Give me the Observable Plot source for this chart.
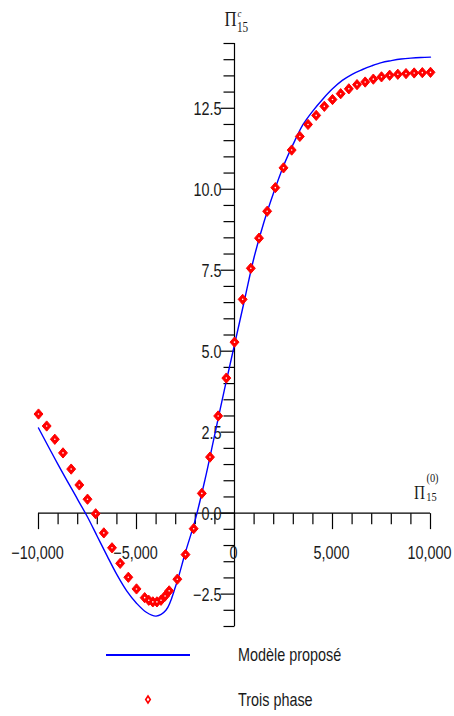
<!DOCTYPE html>
<html>
<head>
<meta charset="utf-8">
<script src="https://cdn.jsdelivr.net/npm/d3@7"></script>
<script src="https://cdn.jsdelivr.net/npm/@observablehq/plot@0.6"></script>
<style>
  body { margin: 0; background: #fff; }
  #chart, #legend { width: 454px; }
  #legend svg { display: block; }
</style>
</head>
<body>
<div id="chart"></div>
<div id="legend"></div>
<script>
// Proposed model (continuous curve)
const modelX = [-10000, -9000, -8000, -7500, -7000, -6500, -6000, -5500, -5000, -4500, -4000, -3500,
  -3000, -2500, -2000, -1500, -1000, -500, 0, 500, 1000, 1500, 2000, 2500, 3000, 3500, 4000, 4500,
  5000, 5500, 6000, 6500, 7000, 7500, 8000, 8500, 9000, 9500, 10000];
const modelY = [2.63, 1.5, 0.42, -0.12, -0.72, -1.32, -1.9, -2.4, -2.78, -3.06, -3.18, -3.0,
  -2.25, -1.2, -0.2, 1.05, 2.45, 3.85, 5.2, 6.55, 7.9, 8.98, 9.9, 10.72, 11.4, 12.0, 12.42, 12.78,
  13.1, 13.36, 13.55, 13.69, 13.81, 13.91, 13.97, 14.02, 14.05, 14.07, 14.08];

// Three-phase results (markers)
const phaseX = [-10000, -9583, -9167, -8750, -8333, -7917, -7500, -7083, -6667, -6250, -5833, -5417, -5000,
  -4583, -4375, -4167, -3958, -3750, -3542, -3333,
  -2917, -2500, -2083, -1667, -1250, -833, -417, 0,
  417, 833, 1250, 1667, 2083, 2500, 2917, 3333, 3750, 4167, 4583, 5000,
  5417, 5833, 6250, 6667, 7083, 7500, 7917, 8333, 8750, 9167, 9583, 10000];
const phaseY = [3.06, 2.69, 2.28, 1.86, 1.36, 0.87, 0.43, -0.02, -0.61, -1.07, -1.55, -1.98, -2.34,
  -2.61, -2.69, -2.74, -2.74, -2.69, -2.56, -2.40,
  -2.04, -1.28, -0.48, 0.61, 1.73, 3.0, 4.17, 5.28,
  6.6, 7.56, 8.49, 9.32, 10.05, 10.66, 11.21, 11.63, 12.0, 12.28, 12.56, 12.77,
  12.95, 13.1, 13.23, 13.31, 13.40, 13.47, 13.52, 13.55, 13.57, 13.59, 13.60, 13.61];

const seriesNames = ["Modèle proposé", "Trois phase"];
const xTickValues = [-10000, -5000, 0, 5000, 10000];
const xTickLabels = ["−10,000", "−5,000", "0", "5,000", "10,000"];
const yTickValues = [-2.5, 0, 2.5, 5, 7.5, 10, 12.5];
const yTickLabels = ["−2.5", "0.0", "2.5", "5.0", "7.5", "10.0", "12.5"];

const blue = "#0000ff";
const red = "#ff0000";
const ink = "#1a1a1a";
const sans = "'Liberation Sans', Arial, sans-serif";
const serif = "'Liberation Serif', 'Times New Roman', serif";

const model = modelX.map((x, i) => ({x, y: modelY[i]}));
const phase = phaseX.map((x, i) => ({x, y: phaseY[i]}));

// small tick glyphs drawn from the axis point
const tick = (dx, dy) => ({draw(ctx) { ctx.moveTo(0, 0); ctx.lineTo(dx, dy); }});
// slightly tall diamond marker
const diamond = {draw(ctx, size) {
  const w = Math.sqrt(size) * 0.56, h = w * 1.15;
  ctx.moveTo(0, -h); ctx.lineTo(w, 0); ctx.lineTo(0, h); ctx.lineTo(-w, 0); ctx.closePath();
}};

const xMinor = d3.range(-10000, 10001, 1000).filter(v => v % 5000 !== 0);
const yMinor = d3.range(-3.5, 14.51, 0.5).filter(v => v % 2.5 !== 0);
const yMajor = d3.range(-3.5, 14.51, 0.5).filter(v => v % 2.5 === 0);

const chart = Plot.plot({
  width: 454,
  height: 636,
  marginLeft: 38,
  marginRight: 24,
  marginTop: 43,
  marginBottom: 10,
  x: {domain: [-10000, 10000], axis: null},
  y: {domain: [-3.5, 14.5], axis: null},
  style: {background: "white", overflow: "visible"},
  marks: [
    // axes crossing at the origin
    Plot.ruleY([0], {x1: -10000, x2: 10000, stroke: "black", strokeWidth: 1.2}),
    Plot.ruleX([0], {y1: -3.5, y2: 14.5, stroke: "black", strokeWidth: 1.2}),
    Plot.dot(xMinor, {x: d => d, y: 0, symbol: tick(0, 11), fill: "none", stroke: "black", strokeWidth: 1.2}),
    Plot.dot(xTickValues, {x: d => d, y: 0, symbol: tick(0, 16), fill: "none", stroke: "black", strokeWidth: 1.2}),
    Plot.dot(yMinor, {x: 0, y: d => d, symbol: tick(-11, 0), fill: "none", stroke: "black", strokeWidth: 1.2}),
    Plot.dot(yMajor, {x: 0, y: d => d, symbol: tick(-14, 0), fill: "none", stroke: "black", strokeWidth: 1.2}),
    Plot.text(xTickValues, {x: d => d, y: 0, text: (d, i) => xTickLabels[i], dx: -1, dy: 40,
      fontSize: 18, fontFamily: sans, fill: ink}),
    Plot.text(yTickValues, {x: 0, y: d => d, text: (d, i) => yTickLabels[i], textAnchor: "end",
      dx: -13, dy: 1, fontSize: 18, fontFamily: sans, fill: ink}),
    // axis titles
    Plot.text([0], {x: 0, y: 14.5, text: () => "Π", dx: -4, dy: -24, fontSize: 21, fontFamily: serif, fill: ink}),
    Plot.text([0], {x: 0, y: 14.5, text: () => "c", dx: 5, dy: -30, fontSize: 11, fontStyle: "italic", fontFamily: serif, fill: ink}),
    Plot.text([0], {x: 0, y: 14.5, text: () => "15", dx: 8, dy: -16, fontSize: 14, fontFamily: serif, fill: ink}),
    Plot.text([0], {x: 10000, y: 0, text: () => "Π", dx: -11, dy: -20, fontSize: 19, fontFamily: serif, fill: ink}),
    Plot.text([0], {x: 10000, y: 0, text: () => "(0)", dx: 2, dy: -35, fontSize: 13, fontFamily: serif, fill: ink}),
    Plot.text([0], {x: 10000, y: 0, text: () => "15", dx: 1, dy: -16, fontSize: 13, fontFamily: serif, fill: ink}),
    // data
    Plot.line(model, {x: "x", y: "y", curve: "catmull-rom", stroke: blue, strokeWidth: 1.4}),
    Plot.dot(phase, {x: "x", y: "y", r: 4.5, symbol: diamond, fill: red, stroke: red, strokeWidth: 1}),
    Plot.dot(phase, {x: "x", y: "y", r: 0.8, fill: "white"})
  ]
});
document.getElementById("chart").append(chart);

// legend below the plot
const lg = d3.select("#legend").append("svg").attr("width", 454).attr("height", 80);
lg.append("line").attr("x1", 106).attr("x2", 190).attr("y1", 19).attr("y2", 19)
  .attr("stroke", blue).attr("stroke-width", 1.8);
lg.append("path").attr("d", "M148,60 L150.3,63.5 L148,67 L145.7,63.5 Z")
  .attr("fill", "white").attr("stroke", red).attr("stroke-width", 1.6);
lg.selectAll("text.lab").data(seriesNames).join("text")
  .attr("class", "lab")
  .attr("x", 238).attr("y", (d, i) => i === 0 ? 19 : 64)
  .attr("dy", "0.35em")
  .attr("font-family", sans).attr("font-size", 18).attr("fill", ink)
  .text(d => d);

// narrow the lettering horizontally around each text's own anchor point
function condense(root, k) {
  d3.select(root).selectAll("text").each(function() {
    const t = this.getAttribute("transform");
    if (t) {
      this.setAttribute("transform", `${t} scale(${k},1)`);
    } else {
      const x = +this.getAttribute("x") || 0, y = +this.getAttribute("y") || 0;
      this.setAttribute("transform", `translate(${x},${y}) scale(${k},1) translate(${-x},${-y})`);
    }
  });
}
condense(chart, 0.8);
condense(lg.node(), 0.8);
</script>
</body>
</html>
